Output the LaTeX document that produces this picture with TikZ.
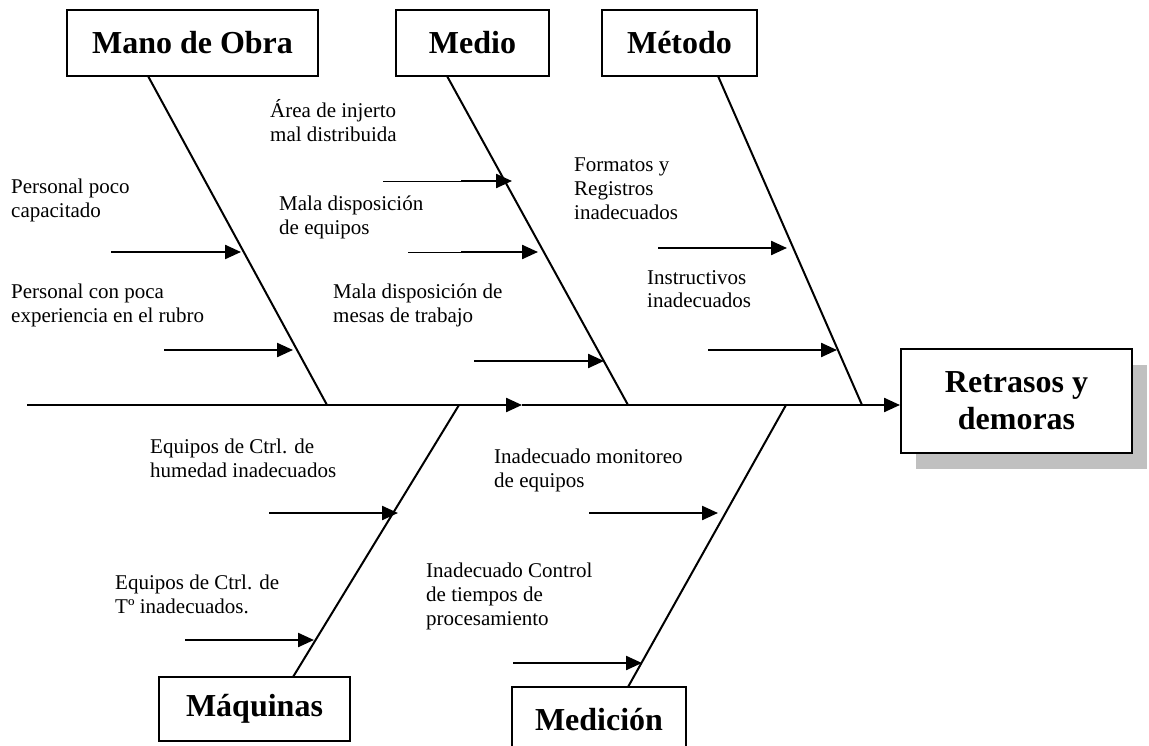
\documentclass[tikz,border=0pt]{standalone}
\usepackage{fontspec}
\setmainfont{Liberation Serif}
\usetikzlibrary{arrows.meta,shadows}
\definecolor{sombra}{RGB}{192,192,192}
\tikzset{>={Triangle[length=16pt,width=14pt]}}
\tikzset{causa/.style={draw, line width=2pt, inner sep=0pt, font=\fontsize{32}{37}\selectfont\bfseries}}
\tikzset{efecto/.style={causa, fill=white, align=center, drop shadow={shadow xshift=15pt,shadow yshift=-16pt,fill=sombra,opacity=1}}}
\tikzset{hueso/.style={line width=2pt}}
\tikzset{flecha/.style={line width=2.3pt, ->}}

\begin{document}
\begin{tikzpicture}[x=1pt, y=-1pt]
		\useasboundingbox (0,0) rectangle (1149,746);

		% cajas de causas y efecto
		\node[causa, minimum width=251pt, minimum height=66pt] (mo) at (192.5,43) {Mano de Obra};
		\node[causa, minimum width=153pt, minimum height=66pt] (me) at (472.5,43) {Medio};
		\node[causa, minimum width=155pt, minimum height=66pt] (mt) at (679.5,43) {Método};
		\node[causa, minimum width=191pt, minimum height=64pt] (mq) at (254.5,709) {Máquinas};
		\node[causa, minimum width=174pt, minimum height=65pt] (md) at (599,719.5) {Medición};
		\node[efecto, minimum width=231pt, minimum height=104pt] (ef) at (1016.5,401) {Retrasos y\\demoras};

		% espina y huesos
		\coordinate (0) at (27,405);
		\coordinate (1) at (327,405);
		\coordinate (2) at (459,405);
		\coordinate (3) at (522,405);
		\coordinate (4) at (628,405);
		\coordinate (5) at (786,405);
		\coordinate (6) at (862,405);
		\coordinate (7) at (148,76);
		\coordinate (8) at (447,76);
		\coordinate (9) at (718,76);
		\coordinate (10) at (293,677);
		\coordinate (11) at (628,687);

		\draw[flecha] (0) -- (3);
		\draw[flecha] (3) -- (3 -| ef.west);
		\draw[hueso] (7) -- (1) (8) -- (4) (9) -- (6) (2) -- (10) (5) -- (11);

		% textos (posicion en la ultima linea)
		\begin{scope}[every node/.append style={font=\fontsize{21}{24}\selectfont, align=left, anchor=base west, inner sep=0pt}]
			\node (t1) at (11,218) {Personal poco\\capacitado};
			\node (t2) at (11,322) {Personal con poca\\experiencia en el rubro};
			\node (t3) at (270,142) {Área de injerto\\mal distribuida};
			\node (t4) at (279,235) {Mala disposición\\de equipos};
			\node (t5) at (333,322) {Mala disposición de\\mesas de trabajo};
			\node (t6) at (574,220) {Formatos y\\Registros\\inadecuados};
			\node (t7) at (647,308) {Instructivos\\inadecuados};
			\node (t8) at (150,477) {Equipos de Ctrl. de\\humedad inadecuados};
			\node (t9) at (115,613) {Equipos de Ctrl. de\\Tº inadecuados.};
			\node (t10) at (494,487) {Inadecuado monitoreo\\de equipos};
			\node (t11) at (426,625) {Inadecuado Control\\de tiempos de\\procesamiento};
		\end{scope}

		% flechas de subcausas
		\coordinate (a1) at (111,252);  \coordinate (b1) at (241,252);
		\coordinate (a2) at (164,350);  \coordinate (b2) at (293,350);
		\coordinate (c3) at (383,181);  \coordinate (a3) at (461,181);  \coordinate (b3) at (512,181);
		\coordinate (c4) at (408,252);  \coordinate (a4) at (461,252);  \coordinate (b4) at (538,252);
		\coordinate (a5) at (474,361);  \coordinate (b5) at (604,361);
		\coordinate (a6) at (658,248);  \coordinate (b6) at (787,248);
		\coordinate (a7) at (708,350);  \coordinate (b7) at (837,350);
		\coordinate (a8) at (269,513);  \coordinate (b8) at (398,513);
		\coordinate (a9) at (185,640);  \coordinate (b9) at (314,640);
		\coordinate (a10) at (589,513); \coordinate (b10) at (718,513);
		\coordinate (a11) at (513,663); \coordinate (b11) at (642,663);

		\draw[line width=0.7pt] (c3) -- (a3) (c4) -- (a4);
		\draw[flecha] (a1) -- (b1);
		\draw[flecha] (a2) -- (b2);
		\draw[flecha] (a3) -- (b3);
		\draw[flecha] (a4) -- (b4);
		\draw[flecha] (a5) -- (b5);
		\draw[flecha] (a6) -- (b6);
		\draw[flecha] (a7) -- (b7);
		\draw[flecha] (a8) -- (b8);
		\draw[flecha] (a9) -- (b9);
		\draw[flecha] (a10) -- (b10);
		\draw[flecha] (a11) -- (b11);
	\end{tikzpicture}
\end{document}
